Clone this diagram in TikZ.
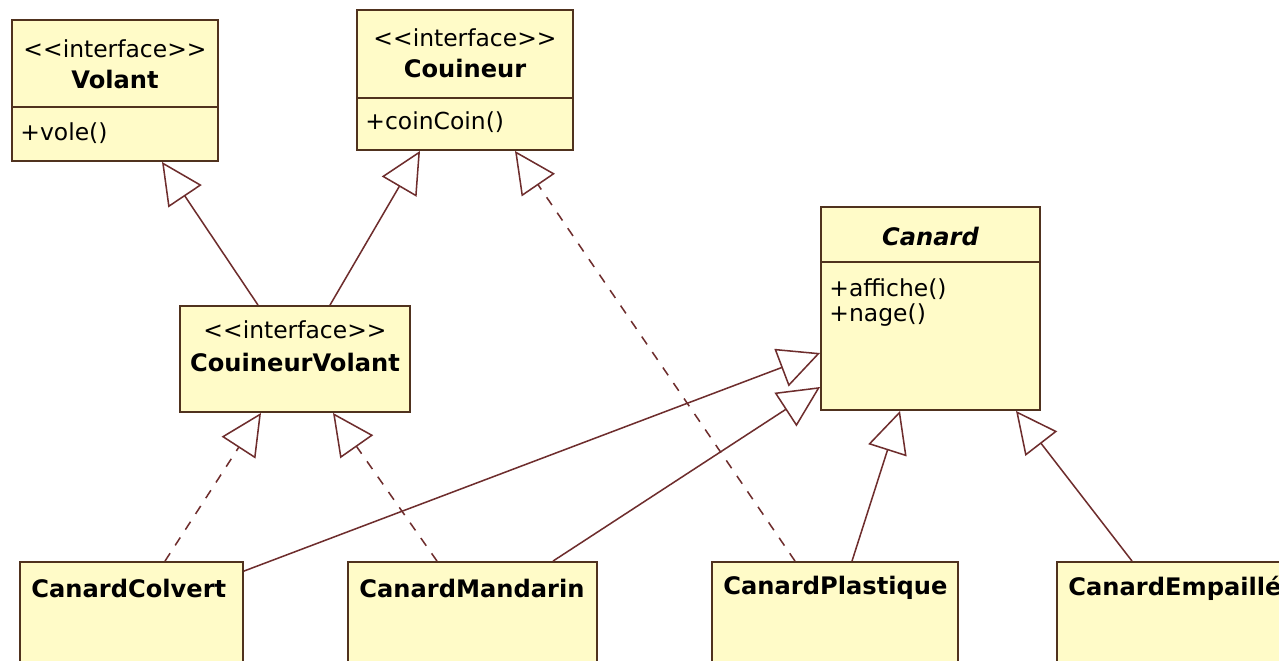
\documentclass[tikz,border=0pt]{standalone}
\usepackage{fontspec}
\setmainfont{DejaVu Sans}
\usetikzlibrary{arrows.meta,positioning}
\definecolor{umlfill}{RGB}{255,251,200}
\definecolor{umlborder}{RGB}{80,50,30}
\definecolor{umlline}{RGB}{110,45,45}

\begin{document}
\begin{tikzpicture}[
    x=0.015cm, y=-0.015cm,
    classbox/.style={draw=umlborder,fill=umlfill,line width=0.8pt,inner sep=0pt},
    stereo/.style={font=\fontsize{10}{12}\selectfont,inner sep=0pt},
    cname/.style={font=\fontsize{10.3}{12}\selectfont\bfseries,inner sep=0pt},
    oper/.style={font=\fontsize{10}{12}\selectfont,inner sep=0pt,anchor=west},
    leafname/.style={font=\fontsize{10.3}{12}\selectfont\bfseries,inner sep=0pt,anchor=west},
    divider/.style={draw=umlborder,line width=0.8pt},
    inherit/.style={draw=umlline,line width=0.65pt,-{Triangle[open,length=0.62cm,width=0.6cm]}},
    realize/.style={inherit,dash pattern=on 4pt off 4pt}
]
\clip (0,0) rectangle (1279,660);
\fill[white] (0,0) rectangle (1279,660);

% Volant
\node[classbox,minimum width=3.09cm,minimum height=2.115cm] (volant) at (115,90.5) {};
\node[stereo] (vstereo) at (115,49) {<{}<interface>{}>};
\node[cname] (vname) at (115,79) {Volant};
\draw[divider] (volant.west |- 0,107) -- (volant.east |- 0,107);
\node[oper] (vole) at (20,133) {+vole()};

% Couineur
\node[classbox,minimum width=3.24cm,minimum height=2.1cm] (couineur) at (465,80) {};
\node[stereo] (cstereo) at (465,38) {<{}<interface>{}>};
\node[cname] (cname) at (465,68) {Couineur};
\draw[divider] (couineur.west |- 0,98) -- (couineur.east |- 0,98);
\node[oper] (coin) at (365,122) {+coinCoin()};

% CouineurVolant
\node[classbox,minimum width=3.45cm,minimum height=1.59cm] (cvolant) at (295,359) {};
\node[stereo] (cvstereo) at (295,330) {<{}<interface>{}>};
\node[cname] (cvname) at (295,362) {CouineurVolant};

% Canard
\node[classbox,minimum width=3.285cm,minimum height=3.045cm] (canard) at (930.5,308.5) {};
\node[cname,font=\fontsize{10.3}{12}\selectfont\bfseries\itshape] (caname) at (930.5,236) {Canard};
\draw[divider] (canard.west |- 0,262) -- (canard.east |- 0,262);
\node[oper] (affiche) at (829,289) {+affiche()};
\node[oper,below=0.39cm of affiche.west,anchor=west] (nage) {+nage()};

% concrete ducks
\node[classbox,minimum width=3.345cm,minimum height=2.1cm] (colvert) at (131.5,632) {};
\node[leafname] (colvname) at (31,588) {CanardColvert};
\node[classbox,minimum width=3.735cm,minimum height=2.1cm] (mandarin) at (472.5,632) {};
\node[leafname] (mandname) at (359,588) {CanardMandarin};
\node[classbox,minimum width=3.69cm,minimum height=2.1cm] (plastique) at (835,632) {};
\node[leafname] (plasname) at (723,588) {CanardPlastique};
\node[classbox,minimum width=3.945cm,minimum height=2.1cm] (empaille) at (1188.5,632) {};
\node[leafname] (empname) at (1068,588) {CanardEmpaillé};

% interface inheritance
\draw[inherit] ([xshift=-0.555cm]cvolant.north) -- ([xshift=0.705cm]volant.south);
\draw[inherit] ([xshift=0.525cm]cvolant.north) -- ([xshift=-0.675cm]couineur.south);

% realizations
\draw[realize] ([xshift=0.5025cm]colvert.north) -- ([xshift=-0.51cm]cvolant.south);
\draw[realize] ([xshift=-0.5325cm]mandarin.north) -- ([xshift=0.57cm]cvolant.south);
\draw[realize] ([xshift=-0.6cm]plastique.north) -- ([xshift=0.75cm]couineur.south);

% class inheritance
\draw[inherit] ([yshift=-0.15cm]colvert.north east) -- ([yshift=-0.6675cm]canard.west);
\draw[inherit] ([xshift=1.2075cm]mandarin.north) -- ([yshift=-1.1775cm]canard.west);
\draw[inherit] ([xshift=0.255cm]plastique.north) -- ([xshift=-0.4575cm]canard.south);
\draw[inherit] ([xshift=-0.8475cm]empaille.north) -- ([xshift=1.2825cm]canard.south);

\end{tikzpicture}
\end{document}
